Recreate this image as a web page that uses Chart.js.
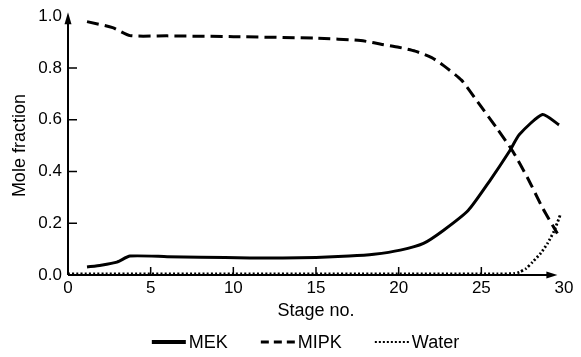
<!DOCTYPE html>
<html>
<head>
<meta charset="utf-8">
<script src="https://cdn.jsdelivr.net/npm/chart.js@4"></script>
<style>
    html, body { margin: 0; padding: 0; background: #fff; }
    #wrap { width: 581px; height: 357px; }
</style>
</head>
<body>
<div id="wrap"><canvas id="stageChart"></canvas></div>
<script>
// Composition profiles along the column
const mekStage  = [1.15, 2, 2.96, 3.75, 6, 8, 11, 13, 15, 17, 18.5, 20.1, 21.5, 22.7, 24.2, 25.5, 26.7, 27.3, 28.7, 29.7];
const mek       = [0.031, 0.038, 0.05, 0.073, 0.071, 0.069, 0.066, 0.066, 0.068, 0.073, 0.08, 0.096, 0.122, 0.172, 0.249, 0.363, 0.478, 0.543, 0.62, 0.58];

const mipkStage = [1.15, 2.7, 3.75, 6, 10, 15, 17.7, 19, 20, 21, 22, 22.7, 23.8, 24.9, 25.95, 26.9, 27.8, 28.7, 29.6];
const mipk      = [0.979, 0.956, 0.925, 0.924, 0.921, 0.915, 0.906, 0.891, 0.88, 0.865, 0.84, 0.81, 0.753, 0.658, 0.566, 0.478, 0.375, 0.26, 0.16];

const waterStage = [0, 10, 20, 26, 27, 27.3, 27.7, 28.1, 28.6, 29, 29.4, 29.8];
const water      = [0.004, 0.004, 0.004, 0.004, 0.006, 0.011, 0.025, 0.05, 0.085, 0.122, 0.17, 0.237];

const xTicks = [0, 5, 10, 15, 20, 25, 30];
const yTicks = [0, 0.2, 0.4, 0.6, 0.8, 1.0];

const fontFamily = '"Liberation Sans", Arial, sans-serif';

function toPoints(xs, ys) {
    return xs.map((x, i) => ({ x: x, y: ys[i] }));
}

// axes with arrows, inward tick marks and the legend row under the title
const axesPlugin = {
    id: 'axesPlugin',
    afterDatasetsDraw(chart) {
        const ctx = chart.ctx;
        const area = chart.chartArea;
        const xs = chart.scales.x;
        const ys = chart.scales.y;
        const x0 = xs.getPixelForValue(0);
        const y0 = ys.getPixelForValue(0);
        const xEnd = xs.getPixelForValue(29.6);
        const yEnd = area.top - 4;

        ctx.save();
        ctx.strokeStyle = '#000';
        ctx.fillStyle = '#000';
        ctx.lineWidth = 2;
        ctx.setLineDash([]);
        ctx.beginPath();
        ctx.moveTo(x0, y0);
        ctx.lineTo(xEnd - 8, y0);
        ctx.moveTo(x0, y0);
        ctx.lineTo(x0, yEnd + 10);
        ctx.stroke();

        // arrow heads
        ctx.beginPath();
        ctx.moveTo(xEnd, y0);
        ctx.lineTo(xEnd - 11, y0 - 3.5);
        ctx.lineTo(xEnd - 11, y0 + 3.5);
        ctx.closePath();
        ctx.fill();
        ctx.beginPath();
        ctx.moveTo(x0, yEnd);
        ctx.lineTo(x0 - 3.5, yEnd + 12);
        ctx.lineTo(x0 + 3.5, yEnd + 12);
        ctx.closePath();
        ctx.fill();

        // tick marks pointing into the plot
        ctx.lineWidth = 1.5;
        ctx.beginPath();
        yTicks.slice(1, -1).forEach(v => {
            const py = ys.getPixelForValue(v);
            ctx.moveTo(x0, py);
            ctx.lineTo(x0 + 9, py);
        });
        xTicks.slice(1, -1).forEach(v => {
            const px = xs.getPixelForValue(v);
            ctx.moveTo(px, y0);
            ctx.lineTo(px, y0 - 8);
        });
        ctx.stroke();

        // legend
        ctx.font = '18px ' + fontFamily;
        ctx.textBaseline = 'middle';
        const lineLen = 34, gap = 3, spacing = 33;
        const items = chart.data.datasets.map(ds => ({
            ds: ds,
            w: lineLen + gap + ctx.measureText(ds.label).width
        }));
        const total = items.reduce((s, it) => s + it.w, 0) + spacing * (items.length - 1);
        let lx = 305.5 - total / 2;
        const ly = 342;
        items.forEach(it => {
            ctx.strokeStyle = '#000';
            ctx.lineWidth = it.ds.legendWidth;
            ctx.setLineDash(it.ds.legendDash);
            ctx.beginPath();
            ctx.moveTo(lx, ly);
            ctx.lineTo(lx + lineLen, ly);
            ctx.stroke();
            ctx.setLineDash([]);
            ctx.fillStyle = '#000';
            ctx.fillText(it.ds.label, lx + lineLen + gap, ly + 1);
            lx += it.w + spacing;
        });
        ctx.restore();
    }
};

const ctx = document.getElementById('stageChart').getContext('2d');
const chart = new Chart(ctx, {
    type: 'line',
    data: {
        datasets: [{
            label: 'MEK',
            data: toPoints(mekStage, mek),
            borderColor: '#000',
            borderWidth: 3,
            legendWidth: 4,
            legendDash: [],
            pointRadius: 0,
            tension: 0.2
        }, {
            label: 'MIPK',
            data: toPoints(mipkStage, mipk),
            borderColor: '#000',
            borderWidth: 3,
            borderDash: [12, 6],
            legendWidth: 3,
            legendDash: [8, 5],
            pointRadius: 0,
            tension: 0.2
        }, {
            label: 'Water',
            data: toPoints(waterStage, water),
            borderColor: '#000',
            borderWidth: 2.8,
            borderDash: [2, 2.2],
            legendWidth: 2.2,
            legendDash: [2, 2],
            pointRadius: 0,
            tension: 0.2
        }]
    },
    options: {
        responsive: true,
        maintainAspectRatio: false,
        animation: false,
        layout: { padding: { top: 14, right: 17, left: 0, bottom: 32 } },
        plugins: {
            legend: { display: false },
            tooltip: { enabled: false }
        },
        scales: {
            x: {
                type: 'linear',
                min: 0,
                max: 30,
                afterFit: function(scale) { scale.height = 50; },
                afterBuildTicks: function(scale) { scale.ticks = xTicks.map(v => ({ value: v })); },
                grid: { display: false, drawTicks: false },
                border: { display: false },
                ticks: {
                    padding: 3,
                    color: '#000',
                    font: { family: fontFamily, size: 17 }
                },
                title: {
                    display: true,
                    text: 'Stage no.',
                    color: '#000',
                    padding: { top: 0, bottom: 3 },
                    font: { family: fontFamily, size: 18 }
                }
            },
            y: {
                type: 'linear',
                min: 0,
                max: 1,
                afterFit: function(scale) { scale.width = 68; },
                afterBuildTicks: function(scale) { scale.ticks = yTicks.map(v => ({ value: v })); },
                grid: { display: false, drawTicks: false },
                border: { display: false },
                ticks: {
                    padding: 6,
                    color: '#000',
                    font: { family: fontFamily, size: 17 },
                    callback: function(v) { return Number(v).toFixed(1); }
                },
                title: {
                    display: true,
                    text: 'Mole fraction',
                    color: '#000',
                    padding: { top: 9, bottom: 0 },
                    font: { family: fontFamily, size: 18 }
                }
            }
        }
    },
    plugins: [axesPlugin]
});
</script>
</body>
</html>
